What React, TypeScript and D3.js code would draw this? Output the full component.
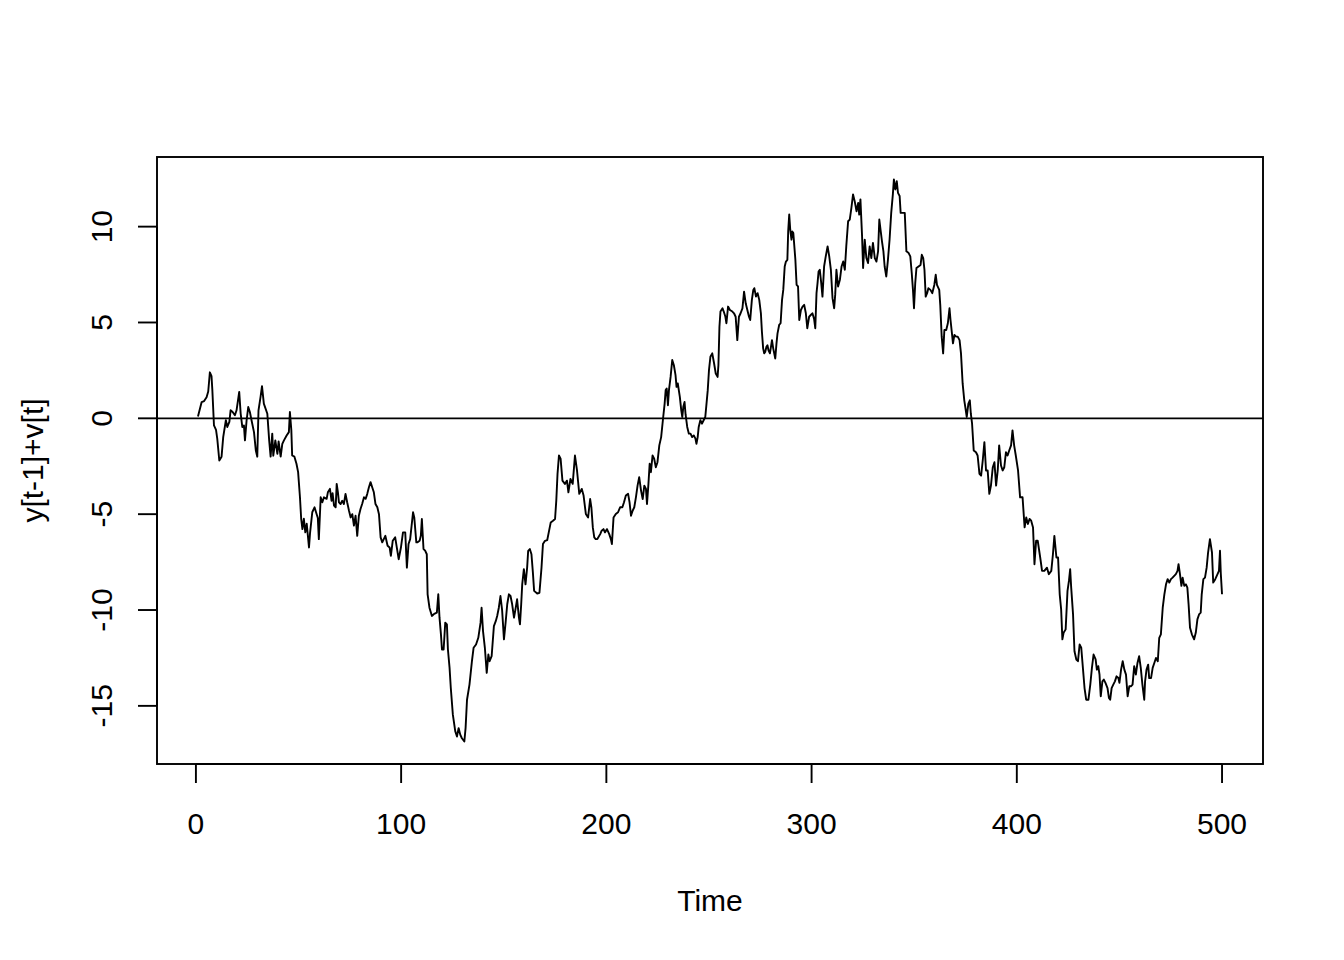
import React from "react";
import * as d3 from "d3";

const time: number[] = [
  1, 2.8, 4, 5.2, 6, 6.8, 7.6, 8, 8.8, 9.8, 10.4, 11.4, 12.5, 13.3, 14.6, 15.3, 16.3, 16.9, 17.9, 19, 19.8,
  21.1, 21.8, 22.6, 23.4, 23.9, 24.7, 25.5, 26.3, 27.1, 28.3, 29.2, 29.9, 30.5, 31.5, 32.2, 33.1, 34.8, 35.7,
  36.4, 37.2, 37.7, 38.7, 39.7, 40.3, 41.3, 42.1, 42.9, 44.2, 45.3, 45.8, 46.5, 46.9, 48, 49, 49.8, 50.7,
  51.3, 51.9, 52.6, 53.3, 54, 55.1, 55.6, 56.7, 57.8, 58.8, 59.4, 59.9, 60.8, 61.6, 62.4, 63.7, 64.3, 65.3,
  66.1, 66.6, 67.3, 68.1, 68.6, 69.2, 69.7, 70.5, 71.3, 72.1, 72.9, 73.7, 74.6, 75.4, 76.2, 77, 77.8, 78.6,
  79.4, 80.2, 81, 81.9, 82.7, 83.5, 84.3, 85.1, 85.9, 86.7, 87.5, 88.4, 89.2, 90, 90.8, 92.3, 93.4, 94.4, 95,
  95.9, 97.1, 97.9, 98.8, 99.9, 100.9, 102, 102.8, 103.6, 104.4, 105.8, 106.4, 107.4, 108, 109, 109.6, 110.1,
  110.9, 111.7, 112.5, 112.9, 113.8, 115, 116.1, 117.4, 118.1, 118.7, 119.4, 119.9, 120.7, 121.5, 122.3,
  122.8, 123.6, 124.2, 125.2, 126.4, 127.2, 128, 128.8, 129.6, 130.8, 131.4, 132.1, 133.3, 134.5, 135.3,
  136.5, 137.6, 138.7, 139.2, 139.9, 140.8, 141.7, 142.5, 143.1, 144.1, 145.2, 146.1, 146.8, 147.6, 148.4,
  149.2, 150.1, 150.9, 151.7, 152.5, 153.3, 154.1, 155, 155.7, 156.5, 157.4, 157.9, 158.5, 159, 159.8, 160.6,
  161.4, 161.9, 162.7, 163.5, 164.2, 164.8, 166.3, 167.4, 168.4, 169.1, 170.1, 171.2, 172.1, 172.9, 174, 175,
  175.6, 176.2, 176.9, 177.7, 178.6, 179.8, 180.8, 181.5, 182.5, 183.6, 184.7, 185.7, 186.8, 188, 188.9, 190,
  191.1, 192.1, 192.7, 193.4, 194.1, 194.8, 195.6, 197, 197.7, 198.6, 199.3, 200.3, 201.4, 202.2, 202.7,
  203.5, 204.6, 205.7, 206.7, 207.8, 208.6, 209.5, 210.6, 211.3, 212, 212.8, 213.6, 214.4, 215.2, 216, 216.9,
  217.7, 218.5, 219.3, 219.8, 220.5, 221.1, 221.7, 222.5, 223.3, 224.1, 224.9, 225.8, 226.7, 227.7, 228.4,
  228.9, 229.4, 230, 230.5, 231.3, 232.1, 232.9, 233.7, 234.2, 234.8, 235.8, 236.5, 237, 237.5, 238.1, 238.6,
  239.4, 240.2, 241, 241.8, 242.6, 243.4, 243.9, 244.5, 245, 245.8, 246.6, 247.4, 248.2, 248.8, 249.4, 250,
  250.7, 251.6, 252.5, 253.3, 254.2, 254.6, 255.1, 255.6, 256.6, 257.2, 258, 258.5, 259.3, 260.2, 261.4,
  262.2, 263, 263.8, 264.6, 265.4, 266.3, 267.1, 267.9, 268.7, 269.5, 270.1, 270.9, 271.6, 272.1, 272.9,
  273.7, 274.5, 275.3, 275.8, 276.4, 276.9, 277.4, 278, 278.5, 279, 279.7, 280.2, 280.7, 281.3, 282.3, 282.9,
  283.4, 284.2, 284.9, 285.6, 286.2, 286.9, 287.5, 288.2, 288.6, 289.1, 289.6, 290.2, 290.6, 291.1, 292.1,
  292.7, 293.4, 294, 294.8, 295.6, 296.4, 297.2, 297.9, 298.8, 299.6, 300.4, 301.2, 301.8, 302.4, 302.9,
  303.4, 304, 304.7, 305.3, 306.1, 306.9, 307.8, 308.6, 309.4, 310.2, 311, 311.5, 312.1, 312.9, 313.8, 314.6,
  315.4, 316.2, 316.9, 317.8, 318.6, 319.4, 320.2, 321, 321.9, 322.7, 323.2, 323.8, 324.6, 325.1, 325.9,
  326.7, 327.5, 328.3, 329.1, 329.9, 330.8, 331.6, 332.4, 333, 333.7, 334.3, 335, 335.6, 336.4, 337.2, 338,
  338.8, 339.6, 340.1, 340.8, 341.5, 342.1, 342.9, 343.4, 344.1, 345.4, 346.2, 347.3, 348.1, 348.8, 349.4,
  349.9, 350.5, 351.1, 352.1, 353.1, 353.7, 354.4, 355, 355.6, 356.3, 356.9, 357.9, 358.8, 359.8, 360.5,
  361.1, 362.2, 362.7, 363.4, 364.1, 364.7, 365.6, 366.4, 367.2, 367.7, 368.3, 368.9, 369.6, 370.4, 371.2,
  372.1, 372.8, 373.6, 374.4, 374.9, 375.6, 376.4, 377.1, 377.6, 378.2, 379, 380.1, 380.9, 381.8, 382.6,
  383.4, 384.2, 385, 385.8, 386.6, 387.4, 388.3, 389.1, 389.9, 390.7, 391.4, 392.3, 393.1, 393.9, 394.7,
  395.5, 396.3, 397.2, 397.9, 398.7, 399.5, 400.6, 401.6, 402.8, 403.8, 404.6, 405.4, 406.2, 407, 407.9,
  408.6, 409.4, 410.2, 411.4, 412.3, 413.4, 414.7, 415.6, 416.8, 417.6, 418.3, 419.3, 420.1, 420.9, 421.6,
  422.2, 422.8, 423.8, 424.7, 425.4, 426, 426.5, 427.4, 428.1, 429, 429.8, 430.6, 431.4, 432.2, 433, 433.8,
  434.9, 435.8, 436.6, 437.4, 438.4, 439, 439.7, 440.3, 440.9, 441.7, 442.4, 443.2, 444.2, 444.9, 445.5,
  446.2, 447, 447.8, 448.6, 449.5, 450, 450.8, 451.6, 452.4, 453.2, 454, 454.8, 455.6, 456.4, 457.2, 458,
  458.8, 459.6, 460.4, 461.2, 462.1, 462.5, 463.2, 464, 464.5, 465.4, 466.2, 467, 467.8, 468.7, 469.4, 470.2,
  471.1, 471.9, 472.7, 473.5, 474.3, 475.1, 475.9, 476.7, 477.5, 478.3, 478.8, 479.5, 480.2, 480.8, 481.6,
  482.4, 483.1, 483.7, 484.4, 485.3, 486.4, 487.2, 488, 488.8, 489.6, 490.1, 490.9, 491.7, 492.5, 493.2,
  494.1, 495.1, 495.7, 496.7, 497.8, 498.5, 499, 499.4, 500,
];

const value: number[] = [
  0.1, 0.85, 0.9, 1.1, 1.4, 2.4, 2.2, 1.5, -0.37, -0.6, -1.06, -2.2, -2.0, -0.98, -0.1, -0.45, -0.19, 0.42,
  0.33, 0.16, 0.42, 1.38, 0.26, -0.45, -0.37, -1.15, -0.1, 0.59, 0.33, -0.1, -0.72, -1.68, -2.0, 0.42, 1.12,
  1.68, 0.77, 0.24, -1.15, -2.0, -0.8, -1.95, -1.15, -1.85, -1.2, -2.0, -1.33, -1.15, -0.9, -0.72, 0.33,
  -0.63, -1.94, -2.0, -2.37, -2.81, -4.12, -5.25, -5.78, -5.24, -5.95, -5.5, -6.74, -6.0, -4.9, -4.64, -4.99,
  -5.2, -6.3, -4.12, -4.38, -4.12, -4.2, -3.86, -3.68, -4.3, -3.9, -4.55, -4.64, -3.42, -3.86, -4.38, -4.47,
  -4.3, -4.47, -3.94, -4.38, -4.82, -5.17, -5.0, -5.6, -5.08, -6.13, -5.08, -4.73, -4.47, -4.12, -4.2, -3.94,
  -3.6, -3.33, -3.6, -3.86, -4.47, -4.64, -5.0, -6.21, -6.47, -6.13, -6.65, -6.74, -7.17, -6.39, -6.21, -6.74,
  -7.35, -6.74, -5.95, -5.95, -7.79, -6.56, -6.3, -4.9, -5.17, -6.47, -6.47, -6.39, -6.13, -5.25, -6.82, -6.9,
  -7.09, -9.18, -9.88, -10.31, -10.2, -10.14, -9.18, -10.4, -11.27, -12.06, -12.06, -10.66, -10.75, -12.06,
  -13.02, -14.07, -15.46, -16.34, -16.6, -16.16, -16.5, -16.69, -16.86, -16.16, -14.68, -13.89, -12.67,
  -11.97, -11.8, -11.45, -10.66, -9.88, -11.1, -11.97, -13.28, -12.32, -12.67, -12.41, -10.84, -10.58, -10.31,
  -9.88, -9.27, -10.0, -11.53, -10.66, -9.7, -9.18, -9.27, -9.7, -10.4, -9.97, -9.44, -10.4, -10.75, -9.7,
  -8.66, -7.87, -8.66, -7.79, -6.91, -6.82, -7.09, -8.05, -9.0, -9.14, -9.1, -7.79, -6.56, -6.39, -6.35, -5.86,
  -5.43, -5.34, -5.25, -4.29, -2.9, -1.94, -2.1, -3.25, -3.42, -3.25, -3.86, -3.16, -3.42, -1.94, -2.72, -3.94,
  -3.68, -4.03, -4.99, -5.17, -4.21, -4.64, -5.69, -6.21, -6.3, -6.3, -6.04, -5.86, -5.78, -5.95, -5.78, -6.04,
  -6.3, -6.56, -5.17, -4.99, -4.9, -4.64, -4.64, -4.38, -4.03, -3.94, -4.38, -5.08, -4.82, -4.64, -4.12, -3.51,
  -3.07, -3.77, -4.21, -3.51, -3.68, -4.47, -3.42, -2.37, -2.81, -1.94, -2.11, -2.55, -2.29, -1.41, -0.98,
  0.07, 0.77, 1.47, 1.55, 0.68, 1.47, 2.16, 3.04, 2.77, 2.25, 1.64, 1.82, 1.12, 0.42, 0.07, 0.6, 0.85, 0.2,
  -0.45, -0.8, -0.8, -0.98, -0.89, -1.06, -1.33, -0.98, -0.45, -0.1, -0.28, -0.1, 0.07, 0.77, 1.47, 2.51,
  3.21, 3.39, 2.86, 2.34, 2.16, 2.77, 4.78, 5.57, 5.74, 5.57, 5.3, 4.96, 5.83, 5.65, 5.57, 5.48, 5.3, 4.08,
  5.3, 5.48, 5.74, 6.61, 6.0, 5.65, 5.3, 5.13, 6.18, 6.7, 6.79, 6.35, 6.53, 6.18, 5.48, 4.52, 3.65, 3.39,
  3.46, 3.73, 3.81, 3.55, 3.39, 3.73, 4.08, 3.65, 3.12, 3.91, 4.43, 4.87, 4.96, 6.18, 6.7, 7.92, 8.18, 8.27,
  9.75, 10.63, 9.84, 9.32, 9.75, 9.67, 8.27, 6.96, 6.88, 5.13, 5.65, 5.83, 5.92, 5.48, 4.7, 5.3, 5.39, 5.48,
  5.2, 4.7, 6.53, 7.05, 7.66, 7.75, 7.05, 6.35, 7.92, 8.45, 8.97, 8.45, 7.75, 6.27, 5.74, 6.44, 7.75, 6.88,
  7.23, 7.92, 8.18, 7.75, 8.97, 10.28, 10.37, 10.98, 11.68, 11.33, 10.8, 11.24, 10.63, 11.42, 9.49, 7.84,
  9.32, 8.36, 8.1, 8.97, 8.36, 9.15, 8.36, 8.18, 8.71, 10.37, 9.75, 9.23, 8.71, 7.92, 7.4, 8.27, 9.32, 10.72,
  11.68, 12.46, 11.94, 12.37, 11.76, 11.6, 10.72, 10.72, 10.72, 8.71, 8.62, 8.45, 7.58, 6.7, 5.74, 7.05, 7.84,
  7.92, 8.0, 8.53, 8.36, 7.75, 6.35, 6.53, 6.79, 6.7, 6.53, 6.96, 7.49, 6.96, 6.7, 5.92, 4.26, 3.39, 4.61,
  4.61, 4.96, 5.74, 5.13, 4.52, 3.91, 4.35, 4.26, 4.26, 4.08, 3.39, 1.82, 0.94, 0.59, 0.07, 0.77, 0.94, 0.24,
  -0.28, -1.68, -1.77, -1.94, -2.9, -2.99, -2.2, -1.24, -2.72, -2.72, -3.94, -3.51, -2.55, -2.29, -3.51,
  -2.72, -1.41, -2.46, -2.72, -2.55, -1.77, -1.94, -1.68, -1.41, -0.63, -1.41, -1.94, -2.72, -4.12, -4.12,
  -5.69, -5.17, -5.51, -5.25, -5.34, -5.69, -7.61, -6.39, -6.39, -7.26, -7.96, -7.96, -7.79, -8.13, -7.96,
  -7.09, -6.13, -7.26, -7.26, -9.18, -9.96, -11.53, -11.19, -11.01, -9.0, -8.48, -7.87, -8.83, -10.23, -12.15,
  -12.58, -12.67, -11.8, -11.97, -13.02, -14.07, -14.68, -14.68, -13.89, -13.02, -12.32, -12.58, -13.11,
  -12.93, -13.37, -14.5, -13.72, -13.63, -13.8, -14.07, -14.59, -14.68, -14.07, -13.89, -13.72, -13.46,
  -13.55, -13.8, -13.11, -12.67, -13.11, -13.37, -14.5, -13.98, -13.98, -13.89, -12.93, -13.37, -12.76,
  -12.41, -13.02, -13.89, -14.68, -13.72, -13.11, -12.85, -13.55, -13.55, -13.02, -12.76, -12.5, -12.67,
  -11.45, -11.27, -9.88, -9.18, -8.66, -8.39, -8.57, -8.39, -8.31, -8.22, -8.13, -7.96, -7.61, -8.13, -8.74,
  -8.31, -8.74, -8.66, -8.83, -9.7, -10.93, -11.27, -11.53, -11.19, -10.49, -10.23, -10.14, -9.18, -8.39,
  -8.31, -7.79, -7.0, -6.3, -7.0, -8.57, -8.39, -8.13, -7.96, -6.91, -8.1, -9.18,
];

const xTicks: number[] = [0, 100, 200, 300, 400, 500];
const yTicks: number[] = [-15, -10, -5, 0, 5, 10];
const xLabel = "Time";
const yLabel = "y[t-1]+v[t]";

const W = 1344;
const H = 960;
const plot = { left: 157, right: 1263, top: 157, bottom: 764 };
const FONT = "'Liberation Sans', Arial, Helvetica, sans-serif";
const LW = 1.9;

function extend(ext: [number, number]): [number, number] {
  const d = (ext[1] - ext[0]) * 0.04;
  return [ext[0] - d, ext[1] + d];
}

export default function App() {
  const xExt = d3.extent(time) as [number, number];
  const yExt = d3.extent(value) as [number, number];
  const x = d3.scaleLinear().domain(extend(xExt)).range([plot.left, plot.right]);
  const y = d3.scaleLinear().domain(extend(yExt)).range([plot.bottom, plot.top]);

  const pts: [number, number][] = time.map((t, i) => [t, value[i]]);
  const line = d3
    .line<[number, number]>()
    .x((d) => x(d[0]))
    .y((d) => y(d[1]));

  const tick = 19;

  return (
    <svg
      width={W}
      height={H}
      viewBox={`0 0 ${W} ${H}`}
      style={{ position: "absolute", left: 0, top: 0, background: "#fff" }}
      fontFamily={FONT}
    >
      <rect x={0} y={0} width={W} height={H} fill="#fff" />
      <path d={line(pts) || ""} fill="none" stroke="#000" strokeWidth={LW} strokeLinejoin="round" />
      <line x1={plot.left} x2={plot.right} y1={y(0)} y2={y(0)} stroke="#000" strokeWidth={LW} />
      <rect
        x={plot.left}
        y={plot.top}
        width={plot.right - plot.left}
        height={plot.bottom - plot.top}
        fill="none"
        stroke="#000"
        strokeWidth={LW}
      />
      {/* x axis */}
      <line x1={x(xTicks[0])} x2={x(xTicks[xTicks.length - 1])} y1={plot.bottom} y2={plot.bottom} stroke="#000" strokeWidth={LW} />
      {xTicks.map((t) => (
        <g key={"xt" + t}>
          <line x1={x(t)} x2={x(t)} y1={plot.bottom} y2={plot.bottom + tick} stroke="#000" strokeWidth={LW} />
          <text x={x(t)} y={834} fontSize={30} textAnchor="middle" fill="#000">
            {t}
          </text>
        </g>
      ))}
      {/* y axis */}
      <line x1={plot.left} x2={plot.left} y1={y(yTicks[0])} y2={y(yTicks[yTicks.length - 1])} stroke="#000" strokeWidth={LW} />
      {yTicks.map((t) => (
        <g key={"yt" + t}>
          <line x1={plot.left} x2={plot.left - tick} y1={y(t)} y2={y(t)} stroke="#000" strokeWidth={LW} />
          <text
            transform={`translate(112, ${y(t)}) rotate(-90)`}
            fontSize={30}
            textAnchor="middle"
            fill="#000"
          >
            {t}
          </text>
        </g>
      ))}
      <text x={(plot.left + plot.right) / 2} y={911} fontSize={30} textAnchor="middle" fill="#000">
        {xLabel}
      </text>
      <text
        transform={`translate(43, ${(plot.top + plot.bottom) / 2}) rotate(-90)`}
        fontSize={30}
        textAnchor="middle"
        fill="#000"
      >
        {yLabel}
      </text>
    </svg>
  );
}
